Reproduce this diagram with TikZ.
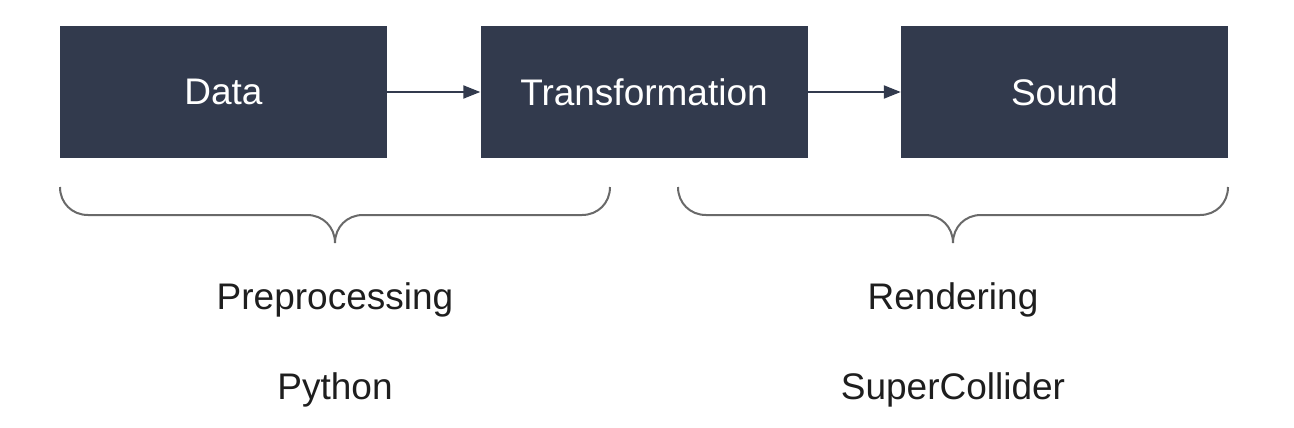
\documentclass[tikz,border=0pt]{standalone}
\usepackage{fontspec}
\setmainfont{Liberation Sans}
\usetikzlibrary{arrows.meta}
\definecolor{boxfill}{RGB}{50,58,77}
\definecolor{bracegray}{RGB}{105,105,105}
\definecolor{labeltext}{RGB}{30,30,30}

\begin{document}
\begin{tikzpicture}[x=1pt, y=-1pt, font=\fontsize{37}{44}\selectfont,
  stagebox/.style = {fill=boxfill, text=white, minimum width=327pt, minimum height=132pt, inner sep=0pt},
  labeltxt/.style = {text=labeltext, inner sep=0pt},
  bracepath/.style = {draw=bracegray, line width=2pt},
  arrow/.style = {-{Triangle[length=17pt, width=13pt]}, draw=boxfill, line width=2pt}
]
\useasboundingbox (0,0) rectangle (1294,428);
\node[stagebox] (data) at (223.5,92) {Data};
\node[stagebox] (trans) at (644,92) {Transformation};
\node[stagebox] (sound) at (1064.5,92) {Sound};
\node[labeltxt] (prep) at (335,300) {Preprocessing};
\node[labeltxt] (python) at (335,390) {Python};
\node[labeltxt] (rend) at (953,300) {Rendering};
\node[labeltxt] (sc) at (953,390) {SuperCollider};
\draw[arrow] (data.east) -- (trans.west);
\draw[arrow] (trans.east) -- (sound.west);
% braces under the stages
\draw[bracepath] (60,187) .. controls (60,203) and (72,215) .. (88,215) -- (307,215)
  .. controls (323,215) and (335,227) .. (335,243) .. controls (335,227) and (347,215) .. (363,215)
  -- (582,215) .. controls (598,215) and (610,203) .. (610,187);
\draw[bracepath] (678,187) .. controls (678,203) and (690,215) .. (706,215) -- (925,215)
  .. controls (941,215) and (953,227) .. (953,243) .. controls (953,227) and (965,215) .. (981,215)
  -- (1200,215) .. controls (1216,215) and (1228,203) .. (1228,187);
\end{tikzpicture}
\end{document}
